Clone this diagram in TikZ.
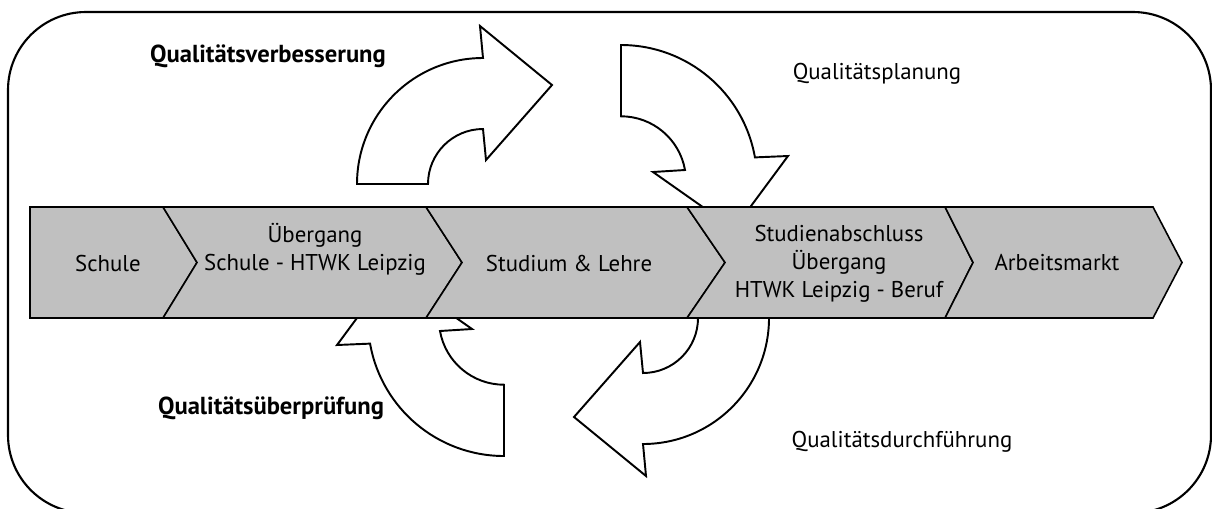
\documentclass[tikz,border=0pt]{standalone}
\usepackage{fontspec}
\setmainfont{PT Sans}
\definecolor{stagegray}{RGB}{192,192,192}
\begin{document}
\begin{tikzpicture}[x=0.02cm,y=-0.02cm,inner sep=0pt,outer sep=0pt,
stage/.style={draw,fill=stagegray,line width=0.9pt},
loop/.style={draw,fill=white,line width=1.1pt},
txt/.style={font=\fontsize{13}{15.9}\selectfont,align=center},
phase/.style={font=\fontsize{13}{15.9}\selectfont,anchor=base},
boldphase/.style={font=\fontsize{14}{17}\selectfont\bfseries,anchor=base}]
\useasboundingbox (0,0) rectangle (1212,508);
\clip (0,0) rectangle (1212,508);
\draw[line width=1.2pt,rounded corners=1.56cm] (8,12) rectangle (1211,513);

% the four loop arrows
\draw[loop] (357,184) arc[start angle=180,end angle=270,radius=126] -- (480,26) -- (552,85) -- (486,160) -- (483,129) arc[start angle=270,end angle=180,radius=55] -- cycle;
\draw[loop] (621,45) arc[start angle=270,end angle=350,radius=136] -- (788,156) -- (734,229) -- (653,172) -- (685,170) arc[start angle=350,end angle=270,radius=65] -- cycle;
\draw[loop] (769,318) arc[start angle=0,end angle=90,radius=126] -- (646,476) -- (574,417) -- (640,342) -- (643,373) arc[start angle=90,end angle=0,radius=55] -- cycle;
\draw[loop] (504,456) arc[start angle=90,end angle=170,radius=136] -- (337,345) -- (391,272) -- (472,329) -- (440,331) arc[start angle=170,end angle=90,radius=65] -- cycle;

% process band
\draw[stage] (30,207) -- (163,207) -- (197,262.5) -- (163,318) -- (30,318) -- cycle;
\draw[stage] (163,207) -- (426,207) -- (462,262.5) -- (426,318) -- (163,318) -- (197,262.5) -- cycle;
\draw[stage] (426,207) -- (687,207) -- (725,262.5) -- (687,318) -- (426,318) -- (462,262.5) -- cycle;
\draw[stage] (687,207) -- (945,207) -- (973,262.5) -- (945,318) -- (687,318) -- (725,262.5) -- cycle;
\draw[stage] (945,207) -- (1153,207) -- (1182,262.5) -- (1153,318) -- (945,318) -- (973,262.5) -- cycle;

\node[txt] (schule) at (108,263) {Schule};
\node[txt] (uebergang) at (315,249) {Übergang\\Schule - HTWK Leipzig};
\node[txt] (studium) at (569,263) {Studium \& Lehre};
\node[txt] (abschluss) at (839,264) {Studienabschluss\\Übergang\\HTWK Leipzig - Beruf};
\node[txt] (markt) at (1057,263) {Arbeitsmarkt};

\node[boldphase] (verbesserung) at (268,62) {Qualitätsverbesserung};
\node[phase] (planung) at (877,79) {Qualitätsplanung};
\node[boldphase] (pruefung) at (271,414) {Qualitätsüberprüfung};
\node[phase] (durchfuehrung) at (902,447) {Qualitätsdurchführung};
\end{tikzpicture}
\end{document}
